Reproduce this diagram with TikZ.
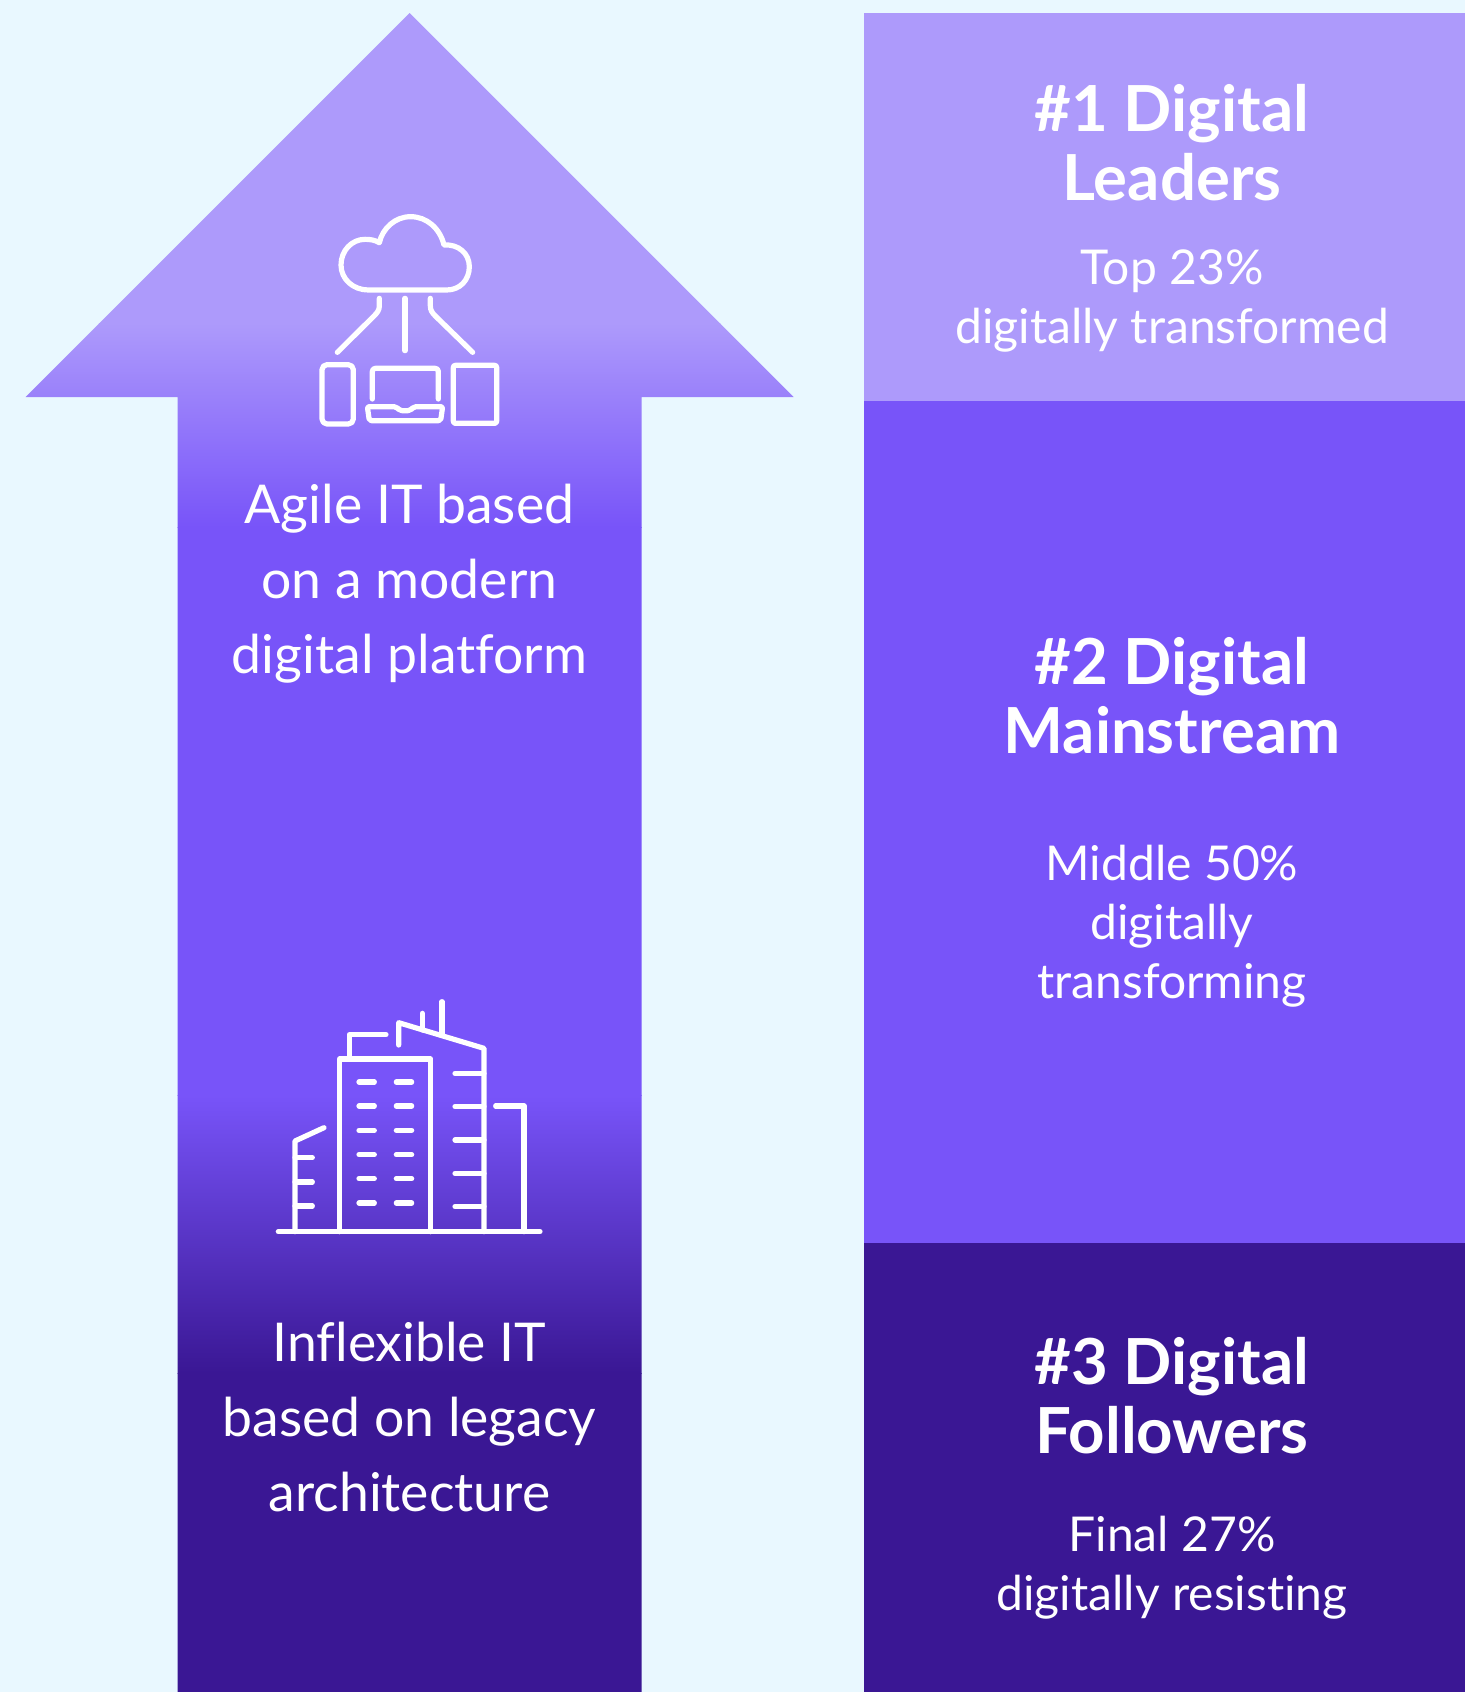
\documentclass[tikz,border=0pt]{standalone}
\usepackage{fontspec}
\setmainfont[Ligatures={NoCommon}]{Lato}
\definecolor{bgc}{HTML}{E9F8FF}
\definecolor{lightc}{HTML}{AD9AFB}
\definecolor{midc}{HTML}{7854F9}
\definecolor{darkc}{HTML}{3A1794}
\tikzset{
  body/.style={text=white,align=center,inner sep=0pt,font=\fontsize{53.5}{75}\selectfont},
  title/.style={text=white,align=center,inner sep=0pt,font=\fontsize{63.5}{69}\selectfont\bfseries},
  sub/.style={text=white,align=center,inner sep=0pt,font=\fontsize{48}{59}\selectfont},
  icon/.style={draw=white,line width=5.2pt,line cap=round,line join=round},
}
\begin{document}
\begin{tikzpicture}[x=1pt,y=-1pt]
\useasboundingbox (0,0) rectangle (1465,1692);
\fill[bgc] (0,0) rectangle (1465,1692);
\begin{scope}
\clip (409.5,13) -- (793.5,397) -- (641.5,397) -- (641.5,1692) -- (177.5,1692) -- (177.5,397) -- (25.5,397) -- cycle;
\fill[lightc] (0,0) rectangle (800,323.5);
\shade[top color=lightc,bottom color=midc] (0,323) rectangle (800,527);
\fill[midc] (0,526.5) rectangle (800,1095.5);
\shade[top color=midc,bottom color=darkc] (0,1095) rectangle (800,1373);
\fill[darkc] (0,1372.5) rectangle (800,1692);
\end{scope}
\fill[lightc] (863.5,13) rectangle (1465,401);
\fill[midc] (863.5,401) rectangle (1465,1243);
\fill[darkc] (863.5,1243) rectangle (1465,1692);
% cloud icon
\begin{scope}[shift={(290pt,-190pt)},x=0.33333pt,y=-0.33333pt]
\draw[icon] (235,300) -- (470,300) .. controls (510,300) and (538,270) .. (538,230) .. controls (538,190) and (505,162) .. (462,165) .. controls (450,115) and (410,80) .. (362,80) .. controls (315,80) and (278,115) .. (268,158) .. controls (255,150) and (240,148) .. (225,148) .. controls (185,148) and (153,182) .. (153,225) .. controls (153,268) and (190,300) .. (235,300) -- cycle;
\draw[icon] (268,325) -- (268,348) .. controls (268,360) and (262,368) .. (252,378) -- (142,487);
\draw[icon] (345,325) -- (345,482);
\draw[icon] (421,325) -- (421,348) .. controls (421,360) and (426,368) .. (436,378) -- (548,487);
\draw[icon,rounded corners=5pt] (96,524) rectangle (190,702);
\draw[icon,rounded corners=2pt] (490,526) rectangle (620,700);
\draw[icon,rounded corners=3pt] (247,627) -- (247,535) -- (445,535) -- (445,627);
\draw[icon,rounded corners=2pt] (232,650) -- (318,650) -- (330,662) -- (360,662) -- (372,650) -- (458,650) -- (452,692) -- (238,692) -- cycle;
\end{scope}
% building icon
\begin{scope}[shift={(260pt,-980pt)},x=0.33333pt,y=-0.33333pt]
\draw[icon] (55,755) -- (840,755);
\draw[icon] (239,755) -- (239,237) -- (512,237) -- (512,755);
\draw[icon] (268,237) -- (268,164) -- (378,164);
\draw[icon] (416,195) -- (416,128) -- (672,205) -- (672,755);
\draw[icon] (487,100) -- (487,150);
\draw[icon] (546,65) -- (546,165);
\foreach \y in {280,380,480,580,680} \draw[icon] (585,\y) -- (672,\y);
\draw[icon] (707,378) -- (792,378) -- (792,755);
\draw[icon] (192,443) -- (105,483) -- (105,755);
\foreach \y in {533,606,678} \draw[icon] (105,\y) -- (157,\y);
\foreach \y in {306,378,451,524,596,669} {
  \draw[icon] (297,\y) -- (343,\y);
  \draw[icon] (409,\y) -- (455,\y);
}
\end{scope}
% text
\node[body] (agile) at (409.5,583.5) {Agile IT based\\on a modern\\digital platform};
\node[body] (inflex) at (409.5,1417) {Inflexible IT\\based on legacy\\architecture};
\node[title] (t1) at (1172,142.5) {\#1 Digital\\Leaders};
\node[sub] (s1) at (1172,301) {Top 23\%\\digitally transformed};
\node[title] (t2) at (1172,695.5) {\#2 Digital\\Mainstream};
\node[sub] (s2) at (1172,926) {Middle 50\%\\digitally\\transforming};
\node[title] (t3) at (1172,1395.5) {\#3 Digital\\Followers};
\node[sub] (s3) at (1172,1568) {Final 27\%\\digitally resisting};
\end{tikzpicture}
\end{document}
